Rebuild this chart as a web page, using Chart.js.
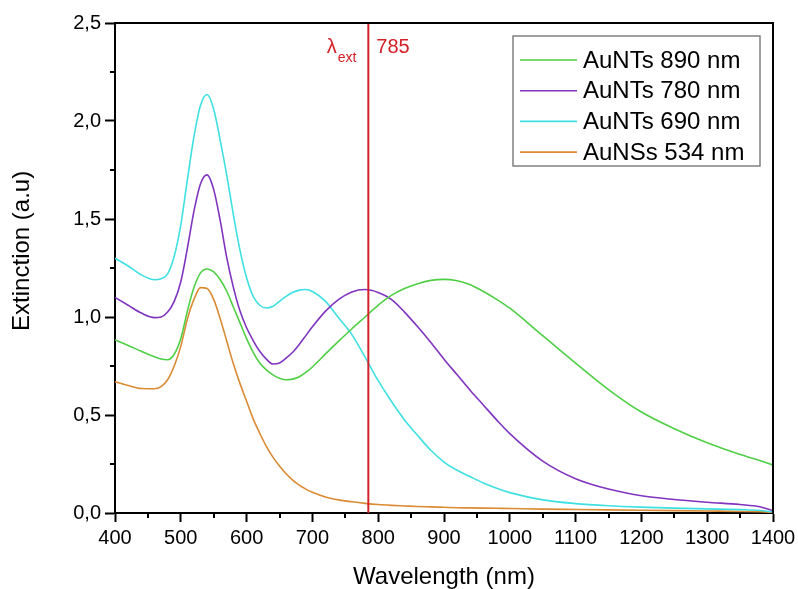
<!DOCTYPE html>
<html>
<head>
<meta charset="utf-8">
<title>Extinction spectra</title>
<script src="https://cdn.jsdelivr.net/npm/chart.js@4.4.0/dist/chart.umd.min.js"></script>
<style>
    html, body { margin: 0; padding: 0; background: #fff; }
    #wrap { width: 798px; height: 589px; position: relative; }
</style>
</head>
<body>
<div id="wrap"><canvas id="extChart"></canvas></div>
<script>
// wavelength grid (nm)
const wavelengths = [400, 420, 440, 460, 470, 480, 490, 500, 510, 520, 530, 540, 550, 560, 570, 580, 590, 600, 610, 620, 630,
    640, 650, 660, 670, 680, 690, 700, 720, 740, 760, 780, 800, 820, 840, 860, 880, 900, 920, 940, 960,
    980, 1000, 1050, 1100, 1150, 1200, 1250, 1300, 1350, 1380, 1400];

// extinction values
const aunts890 = [0.883, 0.855, 0.825, 0.797, 0.786, 0.782, 0.81, 0.89, 1.03, 1.15, 1.225, 1.245, 1.23, 1.19, 1.13, 1.05, 0.97, 0.89, 0.82, 0.765, 0.73,
    0.705, 0.688, 0.68, 0.683, 0.695, 0.717, 0.745, 0.812, 0.877, 0.94, 1.00, 1.06, 1.11, 1.145, 1.17, 1.187, 1.192, 1.185, 1.165, 1.13,
    1.09, 1.045, 0.905, 0.765, 0.63, 0.515, 0.43, 0.358, 0.298, 0.268, 0.245];

const aunts780 = [1.10, 1.06, 1.02, 0.997, 1.0, 1.025, 1.08, 1.18, 1.35, 1.54, 1.68, 1.725, 1.65, 1.49, 1.30, 1.15, 1.03, 0.945, 0.88, 0.825, 0.785,
    0.76, 0.765, 0.79, 0.82, 0.86, 0.905, 0.95, 1.03, 1.09, 1.128, 1.14, 1.125, 1.09, 1.025, 0.95, 0.87, 0.785, 0.705, 0.625, 0.55,
    0.475, 0.405, 0.265, 0.175, 0.122, 0.088, 0.069, 0.055, 0.043, 0.032, 0.012];

const aunts690 = [1.30, 1.26, 1.215, 1.19, 1.195, 1.22, 1.31, 1.47, 1.70, 1.92, 2.08, 2.135, 2.06, 1.90, 1.72, 1.52, 1.34, 1.20, 1.105, 1.06, 1.046,
    1.055, 1.08, 1.105, 1.125, 1.137, 1.14, 1.13, 1.08, 0.995, 0.91, 0.795, 0.675, 0.57, 0.475, 0.395, 0.32, 0.26, 0.218, 0.185, 0.153,
    0.126, 0.104, 0.067, 0.048, 0.037, 0.03, 0.025, 0.021, 0.017, 0.013, 0.005];

const ausns534 = [0.67, 0.65, 0.635, 0.634, 0.645, 0.68, 0.75, 0.85, 0.99, 1.09, 1.15, 1.145, 1.09, 0.99, 0.875, 0.76, 0.66, 0.57, 0.48, 0.407, 0.34,
    0.285, 0.24, 0.20, 0.168, 0.142, 0.122, 0.106, 0.082, 0.067, 0.057, 0.049, 0.043, 0.039, 0.036, 0.033, 0.031, 0.029, 0.027, 0.026, 0.025,
    0.024, 0.023, 0.02, 0.018, 0.016, 0.014, 0.012, 0.01, 0.008, 0.006, 0.004];

const seriesLabels = ['AuNTs 890 nm', 'AuNTs 780 nm', 'AuNTs 690 nm', 'AuNSs 534 nm'];
const seriesColors = ['#4fcf45', '#8034bf', '#3fe0e2', '#da8b33'];

const xMinorTicks = [450, 550, 650, 750, 850, 950, 1050, 1150, 1250, 1350];
const yMinorTicks = [0.25, 0.75, 1.25, 1.75, 2.25];

const excitation = 785;
const redColor = '#d42027';
const yTitle = 'Extinction (a.u)';

const FONT = 'Arial, "Liberation Sans", sans-serif';

function toPoints(ys) {
    return wavelengths.map((w, i) => ({ x: w, y: ys[i] }));
}

// short outward minor ticks, frame and y title
const minorTickPlugin = {
    id: 'minorTicks',
    afterDraw(chart) {
        const ctx = chart.ctx;
        const xs = chart.scales.x;
        const ys = chart.scales.y;
        const area = chart.chartArea;
        ctx.save();
        ctx.strokeStyle = '#000';
        ctx.lineWidth = 2;
        ctx.beginPath();
        xMinorTicks.forEach(v => {
            const px = Math.round(xs.getPixelForValue(v));
            ctx.moveTo(px, area.bottom);
            ctx.lineTo(px, area.bottom + 5);
        });
        yMinorTicks.forEach(v => {
            const py = Math.round(ys.getPixelForValue(v));
            ctx.moveTo(area.left, py);
            ctx.lineTo(area.left - 5, py);
        });
        ctx.stroke();
        // top and right frame
        ctx.beginPath();
        ctx.moveTo(area.left, area.top);
        ctx.lineTo(area.right, area.top);
        ctx.lineTo(area.right, area.bottom);
        ctx.stroke();

        // y axis title (sits a bit above the axis middle in the original)
        ctx.translate(22, area.top + (area.bottom - area.top) * 0.465);
        ctx.rotate(-Math.PI / 2);
        ctx.fillStyle = '#000';
        ctx.font = '24px ' + FONT;
        ctx.textAlign = 'center';
        ctx.textBaseline = 'middle';
        ctx.fillText(yTitle, 0, 0);
        ctx.restore();
    }
};

// excitation wavelength marker
const excitationPlugin = {
    id: 'excitation',
    afterDatasetsDraw(chart) {
        const ctx = chart.ctx;
        const area = chart.chartArea;
        const px = chart.scales.x.getPixelForValue(excitation);
        ctx.save();
        ctx.strokeStyle = redColor;
        ctx.lineWidth = 2;
        ctx.beginPath();
        ctx.moveTo(px, area.bottom);
        ctx.lineTo(px, area.top);
        ctx.stroke();

        ctx.fillStyle = redColor;
        ctx.textBaseline = 'alphabetic';
        ctx.font = '20px ' + FONT;
        ctx.textAlign = 'left';
        ctx.fillText(String(excitation), px + 8, area.top + 30);
        ctx.font = '14px ' + FONT;
        ctx.textAlign = 'right';
        ctx.fillText('ext', px - 12, area.top + 39);
        const extW = ctx.measureText('ext').width;
        ctx.font = '20px ' + FONT;
        ctx.fillText('λ', px - 12 - extW - 1, area.top + 30);
        ctx.restore();
    }
};

// boxed legend inside the plot
const boxLegendPlugin = {
    id: 'boxLegend',
    afterDraw(chart) {
        const ctx = chart.ctx;
        const area = chart.chartArea;
        const boxW = 247, boxH = 130;
        const bx = area.right - 13 - boxW;
        const by = area.top + 13;
        ctx.save();
        ctx.fillStyle = '#fff';
        ctx.fillRect(bx, by, boxW, boxH);
        ctx.strokeStyle = '#808080';
        ctx.lineWidth = 1.5;
        ctx.strokeRect(bx, by, boxW, boxH);
        ctx.font = '24px ' + FONT;
        ctx.textBaseline = 'middle';
        ctx.textAlign = 'left';
        chart.data.datasets.forEach((ds, i) => {
            const cy = by + 24 + i * 30.7;
            ctx.strokeStyle = ds.borderColor;
            ctx.lineWidth = 1.6;
            ctx.beginPath();
            ctx.moveTo(bx + 7, cy);
            ctx.lineTo(bx + 64, cy);
            ctx.stroke();
            ctx.fillStyle = '#000';
            ctx.fillText(ds.label, bx + 70, cy + 1);
        });
        ctx.restore();
    }
};

const ctx = document.getElementById('extChart');
const seriesData = [aunts890, aunts780, aunts690, ausns534];

new Chart(ctx, {
    type: 'line',
    data: {
        datasets: seriesData.map((ys, i) => ({
            label: seriesLabels[i],
            data: toPoints(ys),
            borderColor: seriesColors[i],
            backgroundColor: seriesColors[i],
            borderWidth: 1.6,
            pointRadius: 0,
            cubicInterpolationMode: 'monotone',
            fill: false
        }))
    },
    options: {
        responsive: true,
        maintainAspectRatio: false,
        animation: false,
        layout: { padding: { left: 0, top: 23, right: 25, bottom: 0 } },
        plugins: {
            legend: { display: false },
            tooltip: { enabled: false }
        },
        scales: {
            x: {
                type: 'linear',
                min: 400,
                max: 1400,
                afterFit: function (scale) {
                    scale.height = 76;
                    scale.paddingLeft = 0;
                    scale.paddingRight = 0;
                },
                border: { color: '#000', width: 2 },
                grid: { drawOnChartArea: false, tickLength: 9, tickWidth: 2, tickColor: '#000' },
                ticks: {
                    stepSize: 100,
                    color: '#000',
                    padding: 4,
                    maxRotation: 0,
                    font: { family: FONT, size: 20 },
                    callback: function (value) { return String(value); }
                },
                title: {
                    display: true,
                    text: 'Wavelength (nm)',
                    color: '#000',
                    padding: { top: 0, bottom: -3 },
                    font: { family: FONT, size: 24 }
                }
            },
            y: {
                min: 0,
                max: 2.5,
                afterFit: function (scale) { scale.width = 115; },
                border: { color: '#000', width: 2 },
                grid: { drawOnChartArea: false, tickLength: 10, tickWidth: 2, tickColor: '#000' },
                ticks: {
                    stepSize: 0.5,
                    color: '#000',
                    padding: 4,
                    font: { family: FONT, size: 20 },
                    callback: function (value) {
                        return value.toFixed(1).replace('.', ',');
                    }
                },
                title: { display: false }
            }
        }
    },
    plugins: [minorTickPlugin, excitationPlugin, boxLegendPlugin]
});
</script>
</body>
</html>
